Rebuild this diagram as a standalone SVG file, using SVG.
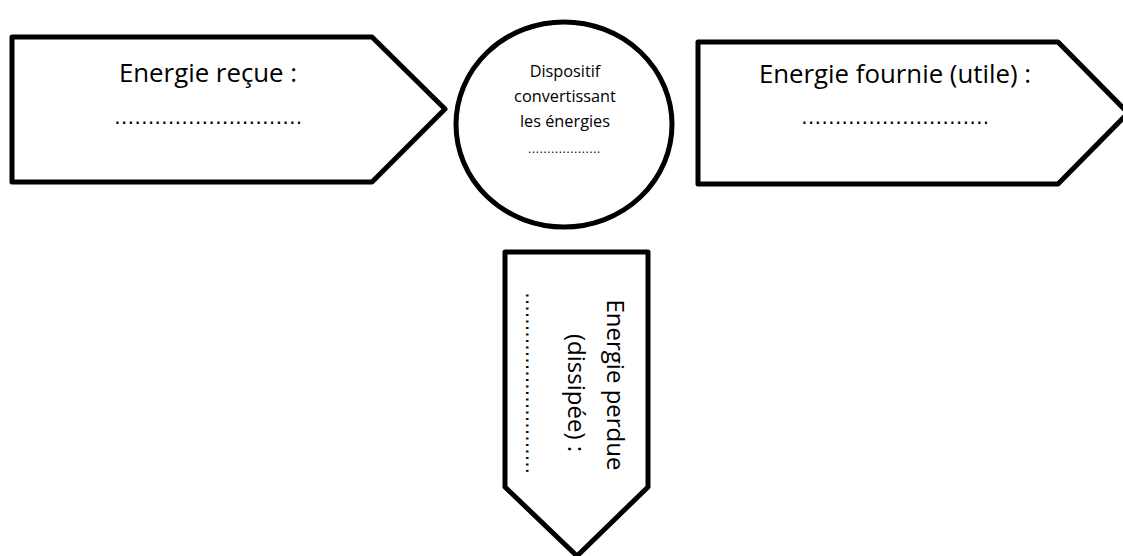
<svg xmlns="http://www.w3.org/2000/svg" width="1123" height="556" viewBox="0 0 1123 556">
<style>
.shape{fill:#ffffff;stroke:#000000;stroke-width:5;stroke-linejoin:round}
.lbl{font-family:"Open Sans","Liberation Sans",sans-serif;font-size:25.8px;fill:#000000;text-anchor:middle}
.vlbl{font-family:"Open Sans","Liberation Sans",sans-serif;font-size:24px;fill:#000000;text-anchor:middle}
.small{font-family:"Open Sans","Liberation Sans",sans-serif;font-size:16.3px;fill:#000000;text-anchor:middle}
.dots{font-family:"DejaVu Sans",sans-serif;font-size:20.2px;fill:#000000;text-anchor:middle}
.vdots{font-family:"DejaVu Sans",sans-serif;font-size:19.5px;fill:#000000;text-anchor:middle}
.sdots{font-family:"DejaVu Sans",sans-serif;font-size:11.5px;fill:#000000;text-anchor:middle}
</style>
<rect width="1123" height="556" fill="#ffffff"/>
<g id="connectors"/>
<g id="energie-recue">
<polygon class="shape" points="12,37 372,37 445,109 372,182 12,182"/>
<text class="lbl" x="208" y="82">Energie reçue :</text>
<text class="dots" x="208" y="124">……………………….</text>
</g>
<g id="dispositif">
<ellipse class="shape" cx="564" cy="124.5" rx="108" ry="102.5"/>
<text class="small" x="565" y="77">Dispositif</text>
<text class="small" x="565" y="102">convertissant</text>
<text class="small" x="565" y="127">les énergies</text>
<text class="sdots" x="564" y="153">……………….</text>
</g>
<g id="energie-fournie">
<polygon class="shape" points="698,42 1058,42 1128,113 1058,184 698,184"/>
<text class="lbl" x="895" y="83">Energie fournie (utile) :</text>
<text class="dots" x="895" y="124">……………………….</text>
</g>
<g id="energie-perdue">
<polygon class="shape" points="505,252 648,252 648,487 577,556 505,487"/>
<text class="vlbl" transform="translate(607,385) rotate(90)">Energie perdue</text>
<text class="vlbl" transform="translate(568,393) rotate(90)">(dissipée) :</text>
<text class="vdots" transform="translate(526,383) rotate(90)">……………………….</text>
</g>
</svg>
